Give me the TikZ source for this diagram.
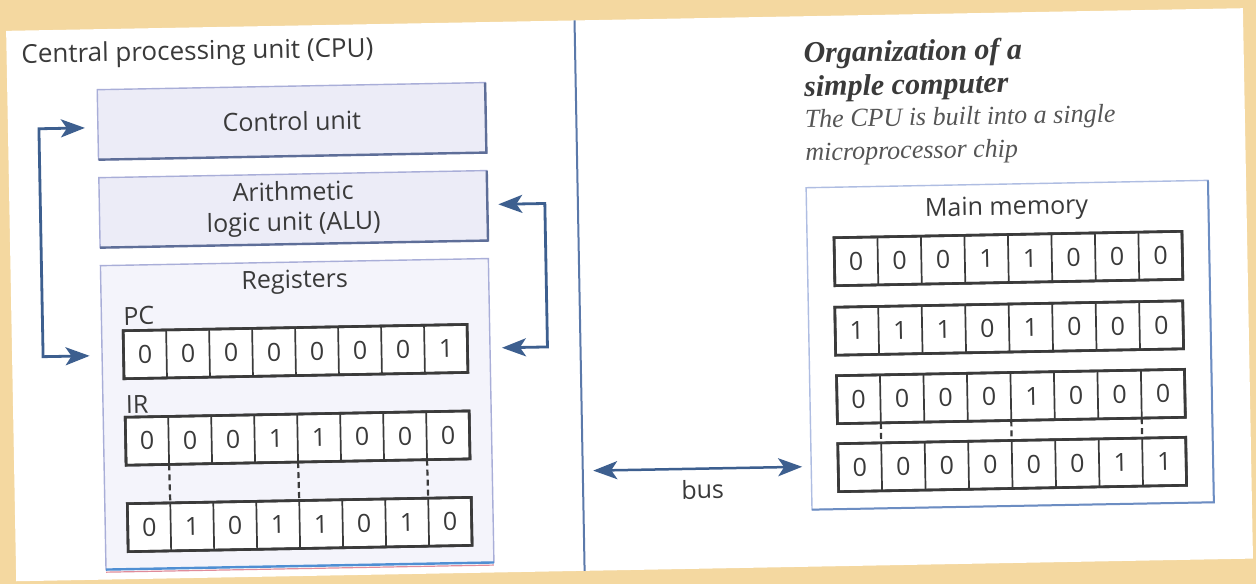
\documentclass[tikz,border=0pt]{standalone}
\usepackage{fontspec}
\setmainfont{Open Sans}
\newfontfamily\capfont{Liberation Serif}
\usetikzlibrary{arrows.meta,calc}

\definecolor{paper}{HTML}{F4D8A0}
\definecolor{ink}{HTML}{3A3A3A}
\definecolor{softink}{HTML}{555555}
\definecolor{flowblue}{HTML}{3D5F8F}
\definecolor{boxfill}{HTML}{ECECF7}
\definecolor{regfill}{HTML}{F4F4FB}
\definecolor{boxline}{HTML}{A9AED8}
\definecolor{boxdark}{HTML}{5E6E98}
\definecolor{memline}{HTML}{AFBDE2}
\definecolor{memdark}{HTML}{6C8DC2}
\definecolor{dividerblue}{HTML}{5B79AA}
\definecolor{printblue}{HTML}{4F8FD3}
\definecolor{printpink}{HTML}{E08C9A}

\tikzset{
  every node/.style={text=ink, inner sep=0pt, outer sep=0pt},
  sans/.style={font=\fontsize{25}{30}\selectfont},
  unitbox/.style={sans, draw=boxline, line width=1.4pt, fill=boxfill,
    minimum width=388pt, minimum height=70pt, align=center},
  regsbox/.style={draw=boxline, line width=1.4pt, fill=regfill,
    minimum width=388pt, minimum height=304pt},
  membox/.style={draw=memline, line width=1.4pt, fill=white,
    minimum width=402pt, minimum height=322pt},
  shadeedge/.style={draw=boxdark, line width=2.4pt},
  memedge/.style={draw=memdark, line width=2pt},
  regframe/.style={draw=ink, line width=2.6pt, fill=white, minimum height=48pt},
  bitcell/.style={sans, minimum height=48pt},
  celldiv/.style={draw=ink, line width=1.7pt},
  tickline/.style={draw=ink, line width=2.2pt, dash pattern=on 6pt off 4pt},
  tag/.style={sans, anchor=base west},
  flow/.style={draw=flowblue, line width=2.8pt,
    {Stealth[length=24pt,width=18pt,inset=6pt]}-{Stealth[length=24pt,width=18pt,inset=6pt]}},
}

% an 8-bit word: name, centre x, centre y, cell width, bits
\newcommand\bitrow[5]{%
  \node[regframe, minimum width=8*#4pt] (#1) at (#2,#3) {};
  \foreach \b [count=\i] in {#5}
    \node[bitcell, minimum width=#4pt] (#1-\i) at ($(#1.west)+({(\i-0.5)*#4},0)$) {\b};
  \foreach \i in {1,...,7}
    \draw[celldiv] (#1-\i.north east) -- (#1-\i.south east);
  \draw[regframe, fill=none] (#1.north west) rectangle (#1.south east);
}

\begin{document}
\begin{tikzpicture}[x=1pt,y=-1pt]
\useasboundingbox (0,0) rectangle (1256,584);
\fill[paper] (0,0) rectangle (1256,584);
\clip (0,0) rectangle (1256,584);
\begin{scope}[rotate around={1.05:(628,292)}, transform shape]
  % page and column rule
  \fill[white] (11,19.5) rectangle (1248,570);
  \draw[dividerblue, line width=2pt] (579.5,19.5) -- (579.5,570);

  % ---------- CPU ----------
  \node[tag, font=\fontsize{26}{30}\selectfont] (cpulabel) at (26,52) {Central processing unit (CPU)};

  \node[unitbox] (ctrl) at (295,115) {Control unit};
  \draw[shadeedge] (ctrl.north east) -- (ctrl.south east) -- (ctrl.south west);

  \node[unitbox] (alu) at (295,203) {Arithmetic\\logic unit (ALU)};
  \draw[shadeedge] (alu.north east) -- (alu.south east) -- (alu.south west);

  \node[regsbox] (regs) at (295,408) {};
  \draw[printpink, line width=1.2pt] ($(regs.south west)+(0,2.6)$) -- ($(regs.south east)+(0,2.6)$);
  \draw[printblue, line width=2.4pt] (regs.south west) -- (regs.south east);
  \node[sans, anchor=base] (regtitle) at (295,282) {Registers};

  \node[tag] (pclabel) at (123,316) {PC};
  \bitrow{pc}{294.5}{345.5}{43}{0,0,0,0,0,0,0,1}
  \node[tag] (irlabel) at (124,404) {IR};
  \bitrow{ir}{295}{432}{43}{0,0,0,1,1,0,0,0}
  \bitrow{low}{295.5}{518.5}{43}{0,1,0,1,1,0,1,0}
  \foreach \k in {1,4,7}
    \draw[tickline] (ir-\k.south east) -- (low-\k.north east);

  % control paths
  \coordinate (lbend) at (42,0);
  \coordinate (ctrlin) at ($(ctrl.west)+(-13,3)$);
  \coordinate (pcinl) at ($(pc.west)+(-34,0.5)$);
  \draw[flow] (ctrlin) -- (ctrlin -| lbend) -- (lbend |- pcinl) -- (pcinl);

  \coordinate (rbend) at (546.5,0);
  \coordinate (aluin) at ($(alu.east)+(11,-1)$);
  \coordinate (pcinr) at ($(pc.east)+(34.5,0)$);
  \draw[flow] (aluin) -- (aluin -| rbend) -- (rbend |- pcinr) -- (pcinr);

  % ---------- caption ----------
  \node[anchor=base west, text=ink, font=\capfont\bfseries\itshape\fontsize{30}{34}\selectfont]
    (title1) at (808,66) {Organization of a};
  \node[anchor=base west, text=ink, font=\capfont\bfseries\itshape\fontsize{30}{34}\selectfont]
    (title2) at (808,99.5) {simple computer};
  \node[anchor=base west, text=softink, font=\capfont\itshape\fontsize{26}{32}\selectfont]
    (sub1) at (808,131) {The CPU is built into a single};
  \node[anchor=base west, text=softink, font=\capfont\itshape\fontsize{26}{32}\selectfont]
    (sub2) at (808,164) {microprocessor chip};

  % ---------- memory ----------
  \node[membox] (mem) at (1009,352) {};
  \draw[memedge] (mem.north east) -- (mem.south east) -- (mem.south west);
  \node[sans, anchor=base] (memtitle) at (1008,222) {Main memory};
  \bitrow{mA}{1009}{265.5}{43.5}{0,0,0,1,1,0,0,0}
  \bitrow{mB}{1008.5}{335}{43.5}{1,1,1,0,1,0,0,0}
  \bitrow{mC}{1009}{403.5}{43.5}{0,0,0,0,1,0,0,0}
  \bitrow{mD}{1009}{471.5}{43.5}{0,0,0,0,0,0,1,1}
  \foreach \k in {1,4,7}
    \draw[tickline] (mC-\k.south east) -- (mD-\k.north east);

  % ---------- bus ----------
  \coordinate (busend) at (590,470);
  \coordinate (busmem) at ($(busend -| mem.west)+(-9,0)$);
  \draw[flow, line width=2.5pt] (busend) -- (busmem);
  \node[sans, anchor=base] (buslabel) at (699,500) {bus};
\end{scope}
\end{tikzpicture}
\end{document}
